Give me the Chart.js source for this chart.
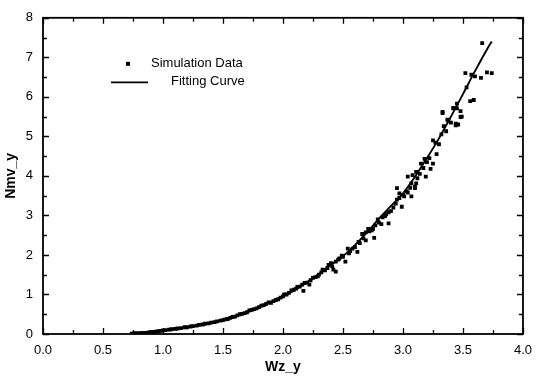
<!DOCTYPE html>
<html>
<head>
<meta charset="utf-8">
<script src="https://cdn.jsdelivr.net/npm/chart.js@4/dist/chart.umd.min.js"></script>
<style>
  html, body { margin: 0; padding: 0; background: #fff; }
  #wrap { width: 541px; height: 379px; }
</style>
</head>
<body>
<div id="wrap"><canvas id="c" width="541" height="379"></canvas></div>
<script>
// scatter points (Wz_y, Nmv_y)
const simX = [
  0.74, 0.76, 0.79, 0.82, 0.85, 0.88, 0.90, 0.92, 0.94, 0.96, 0.98, 1.00,
  1.02, 1.05, 1.07, 1.10, 1.12, 1.15, 1.18, 1.20, 1.23, 1.25, 1.28, 1.30,
  1.33, 1.35, 1.38, 1.40, 1.43, 1.45, 1.48, 1.50, 1.52, 1.54,
  1.56, 1.58, 1.60, 1.62, 1.64, 1.66, 1.68, 1.70, 1.72, 1.74, 1.76, 1.78,
  1.80, 1.82, 1.84, 1.86, 1.88, 1.90, 1.92, 1.94, 1.96, 1.98, 2.00, 2.01,
  2.03, 2.05, 2.07, 2.09, 2.11, 2.12, 2.14, 2.16, 2.17, 2.18, 2.20, 2.22,
  2.23, 2.25, 2.27, 2.29, 2.30, 2.32, 2.33, 2.35, 2.37, 2.38, 2.40, 2.41,
  2.42, 2.44, 2.44, 2.46, 2.47, 2.49, 2.50, 2.52,
  2.54, 2.55, 2.56, 2.58, 2.60, 2.62, 2.63, 2.64, 2.66, 2.67, 2.69, 2.69,
  2.71, 2.72, 2.74, 2.75, 2.76, 2.77, 2.79, 2.80, 2.82, 2.83, 2.85, 2.86,
  2.88, 2.88, 2.90, 2.92, 2.94, 2.95, 2.95, 2.97, 2.97, 2.99, 3.00, 3.01,
  3.03, 3.04, 3.04, 3.06, 3.07, 3.07, 3.08, 3.10, 3.10, 3.11, 3.11, 3.12,
  3.14, 3.15, 3.17, 3.18, 3.19, 3.20, 3.22, 3.23, 3.25, 3.25, 3.27, 3.28,
  3.30, 3.32, 3.33, 3.33, 3.34, 3.36, 3.37, 3.38, 3.40, 3.42, 3.42, 3.44,
  3.44, 3.45, 3.45, 3.46, 3.48, 3.48, 3.49,
  3.52, 3.53, 3.56, 3.57, 3.59, 3.60, 3.65, 3.66, 3.70, 3.74
];
const simY = [
  0.01, 0.02, 0.02, 0.03, 0.03, 0.04, 0.05, 0.05, 0.06, 0.07, 0.08, 0.09,
  0.10, 0.11, 0.12, 0.13, 0.14, 0.15, 0.17, 0.17, 0.19, 0.20, 0.21, 0.23,
  0.24, 0.26, 0.27, 0.29, 0.30, 0.32, 0.34, 0.35, 0.37, 0.38,
  0.41, 0.43, 0.44, 0.47, 0.50, 0.51, 0.53, 0.55, 0.60, 0.61, 0.63, 0.65,
  0.68, 0.72, 0.73, 0.76, 0.80, 0.79, 0.83, 0.86, 0.88, 0.92, 0.95, 1.00,
  1.00, 1.04, 1.10, 1.12, 1.15, 1.19, 1.20, 1.25, 1.09, 1.29, 1.30, 1.25,
  1.36, 1.42, 1.44, 1.46, 1.50, 1.56, 1.63, 1.61, 1.67, 1.75, 1.79, 1.71,
  1.63, 1.83, 1.58, 1.88, 1.91, 1.98, 1.95, 1.83,
  2.16, 2.04, 2.10, 2.16, 2.20, 2.08, 2.33, 2.30, 2.53, 2.42, 2.57, 2.37,
  2.66, 2.60, 2.62, 2.66, 2.43, 2.75, 2.90, 2.82, 2.78, 2.95, 2.98, 3.03,
  2.80, 3.08, 3.11, 3.20, 3.30, 3.40, 3.69, 3.44, 3.56, 3.22, 3.52, 3.48,
  3.61, 3.58, 3.98, 3.70, 3.48, 3.81, 4.02, 3.69, 3.73, 3.81, 4.10, 3.94,
  4.05, 4.31, 4.20, 4.43, 3.98, 4.35, 4.45, 4.18, 4.31, 4.90, 4.84, 4.55,
  4.80, 5.05, 5.62, 5.59, 5.26, 5.13, 5.42, 5.40, 5.35, 5.71, 5.72, 5.28,
  5.32, 5.83, 5.71, 5.30, 5.49, 5.64, 5.50,
  6.60, 6.24, 5.89, 6.56, 5.92, 6.52, 6.48, 7.36, 6.62, 6.60
];

// fitted curve
const fitX = [0.73, 0.8, 0.9, 1.0, 1.1, 1.2, 1.3, 1.4, 1.5, 1.6, 1.7, 1.8, 1.9, 2.0, 2.1, 2.2,
  2.3, 2.4, 2.5, 2.6, 2.7, 2.8, 2.9, 3.0, 3.1, 3.2, 3.3, 3.4, 3.5, 3.6, 3.7, 3.74];
const fitY = [0.0, 0.02, 0.05, 0.09, 0.13, 0.17, 0.22, 0.28, 0.36, 0.45, 0.55, 0.67, 0.80, 0.95, 1.12, 1.31,
  1.52, 1.75, 1.97, 2.25, 2.57, 2.92, 3.24, 3.56, 3.98, 4.45, 4.95, 5.50, 6.07, 6.65, 7.20, 7.40];

const xTicks = [0, 0.5, 1, 1.5, 2, 2.5, 3, 3.5, 4];
const yTicks = [0, 1, 2, 3, 4, 5, 6, 7, 8];
const legendLabels = ['Simulation Data', 'Fitting Curve'];

const FONT = 'Arial, "Liberation Sans", sans-serif';

// frame + inward ticks on all four sides
const framePlugin = {
  id: 'frame',
  afterDraw(chart) {
    const { ctx, chartArea: a, scales } = chart;
    const xs = scales.x, ys = scales.y;
    ctx.save();
    ctx.strokeStyle = '#000';
    ctx.lineWidth = 1.8;
    ctx.strokeRect(a.left, a.top, a.right - a.left, a.bottom - a.top);
    ctx.lineWidth = 1.3;
    ctx.beginPath();
    for (let i = 0; i < xTicks.length * 2 - 1; i++) {
      const v = i * 0.25;
      const len = i % 2 === 0 ? 6 : 4;
      const px = Math.round(xs.getPixelForValue(v)) + 0.5;
      ctx.moveTo(px, a.bottom); ctx.lineTo(px, a.bottom - len);
      ctx.moveTo(px, a.top); ctx.lineTo(px, a.top + len);
    }
    for (let i = 0; i < yTicks.length * 2 - 1; i++) {
      const v = i * 0.5;
      const len = i % 2 === 0 ? 6 : 4;
      const py = Math.round(ys.getPixelForValue(v)) + 0.5;
      ctx.moveTo(a.left, py); ctx.lineTo(a.left + len, py);
      ctx.moveTo(a.right, py); ctx.lineTo(a.right - len, py);
    }
    ctx.stroke();

    // legend inside the plot
    ctx.fillStyle = '#000';
    ctx.font = '13px ' + FONT;
    ctx.textBaseline = 'middle';
    ctx.fillRect(a.left + 83, a.top + 44, 4, 4);
    ctx.fillText(legendLabels[0], a.left + 108, a.top + 46);
    ctx.lineWidth = 1.8;
    ctx.beginPath();
    ctx.moveTo(a.left + 68, a.top + 64.5);
    ctx.lineTo(a.left + 105, a.top + 64.5);
    ctx.stroke();
    ctx.fillText(legendLabels[1], a.left + 128, a.top + 64);
    ctx.restore();
  }
};

new Chart(document.getElementById('c'), {
  type: 'scatter',
  data: {
    datasets: [
      {
        label: legendLabels[0],
        data: simX.map((x, i) => ({ x, y: simY[i] })),
        pointStyle: 'rect',
        pointRadius: 2.7,
        backgroundColor: '#000',
        borderColor: '#000',
        borderWidth: 0
      },
      {
        label: legendLabels[1],
        data: fitX.map((x, i) => ({ x, y: fitY[i] })),
        showLine: true,
        pointRadius: 0,
        borderColor: '#000',
        borderWidth: 1.9,
        cubicInterpolationMode: 'monotone'
      }
    ]
  },
  options: {
    responsive: false,
    animation: false,
    events: [],
    layout: { padding: { top: 11, right: 11, left: 0, bottom: 0 } },
    plugins: { legend: { display: false }, tooltip: { enabled: false } },
    scales: {
      x: {
        type: 'linear',
        min: 0,
        max: 4,
        afterBuildTicks: s => { s.ticks = xTicks.map(v => ({ value: v })); },
        afterFit: s => { s.height = 45; },
        grid: { display: false, drawTicks: false },
        border: { display: false },
        ticks: {
          color: '#000',
          padding: 9,
          font: { family: FONT, size: 13 },
          callback: v => v.toFixed(1)
        },
        title: {
          display: true,
          text: 'Wz_y',
          color: '#000',
          padding: { top: 0, bottom: 3 },
          font: { family: FONT, size: 14, weight: 'bold' }
        }
      },
      y: {
        type: 'linear',
        min: 0,
        max: 8,
        afterBuildTicks: s => { s.ticks = yTicks.map(v => ({ value: v })); },
        afterFit: s => { s.width = 43; },
        grid: { display: false, drawTicks: false },
        border: { display: false },
        ticks: {
          color: '#000',
          padding: 10,
          font: { family: FONT, size: 13 }
        },
        title: {
          display: true,
          text: 'Nmv_y',
          color: '#000',
          padding: { top: 3, bottom: 0 },
          font: { family: FONT, size: 14, weight: 'bold' }
        }
      }
    }
  },
  plugins: [framePlugin]
});
</script>
</body>
</html>
